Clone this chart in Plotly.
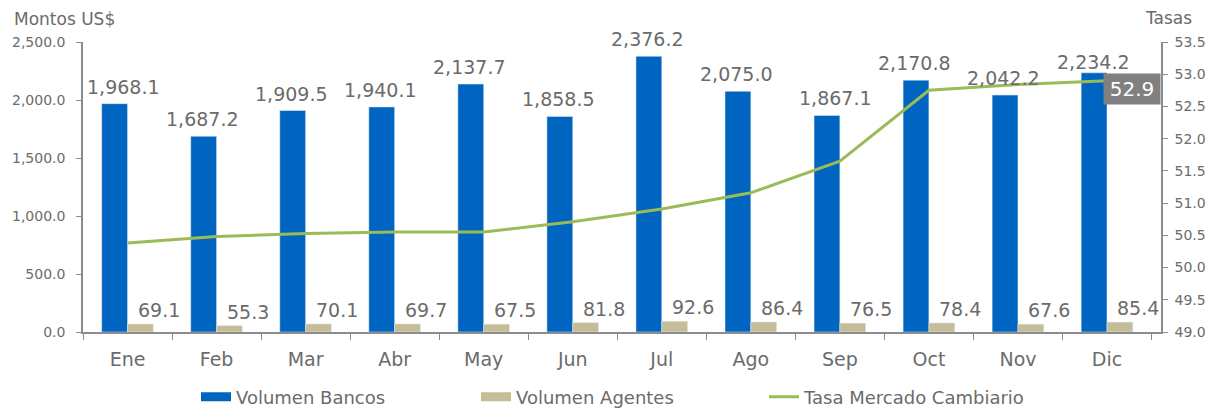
import plotly.graph_objects as go

months = ["Ene", "Feb", "Mar", "Abr", "May", "Jun", "Jul", "Ago", "Sep", "Oct", "Nov", "Dic"]
vol_bancos = [1968.1, 1687.2, 1909.5, 1940.1, 2137.7, 1858.5, 2376.2, 2075.0, 1867.1, 2170.8, 2042.2, 2234.2]
vol_agentes = [69.1, 55.3, 70.1, 69.7, 67.5, 81.8, 92.6, 86.4, 76.5, 78.4, 67.6, 85.4]
tasa = [50.38, 50.48, 50.53, 50.55, 50.55, 50.71, 50.91, 51.16, 51.65, 52.75, 52.84, 52.90]
left_ticks = [0, 500, 1000, 1500, 2000, 2500]
right_ticks = [49.0, 49.5, 50.0, 50.5, 51.0, 51.5, 52.0, 52.5, 53.0, 53.5]

BLUE = "#0064C1"
TAN = "#C4BD97"
GREEN = "#9BBB59"
GRAY_TXT = "#6B6B6B"
AXIS = "#8C8C8C"
FONT = "DejaVu Sans"

fig = go.Figure()
fig.add_trace(go.Bar(x=months, y=vol_bancos, name="Volumen Bancos", marker_color=BLUE,
                     showlegend=False, yaxis="y"))
fig.add_trace(go.Bar(x=months, y=vol_agentes, name="Volumen Agentes", marker_color=TAN,
                     showlegend=False, yaxis="y"))
fig.add_trace(go.Scatter(x=months, y=tasa, name="Tasa Mercado Cambiario", mode="lines",
                         line=dict(color=GREEN, width=3), showlegend=False, yaxis="y2"))

# legend entries (wide flat swatches like the original)
for nm, col, lg in [("Volumen Bancos", BLUE, "legend"),
                    ("Volumen Agentes", TAN, "legend2"),
                    ("Tasa Mercado Cambiario", GREEN, "legend3")]:
    fig.add_trace(go.Scatter(x=[None], y=[None], mode="lines", name=nm,
                             line=dict(color=col, width=9 if lg != "legend3" else 3),
                             legend=lg, showlegend=True, hoverinfo="skip"))

# data labels
blue_dx = {"Ene": -4, "Sep": -4}
blue_dy = {"Dic": 11}
ann = []
for m, v in zip(months, vol_bancos):
    ann.append(dict(x=m, y=v, xref="x", yref="y", text=f"{v:,.1f}", showarrow=False,
                    xshift=blue_dx.get(m, -14), yshift=blue_dy.get(m, 17), yanchor="middle",
                    font=dict(family=FONT, size=19, color=GRAY_TXT)))
for m, v in zip(months, vol_agentes):
    ann.append(dict(x=m, y=v, xref="x", yref="y", text=f"{v:,.1f}", showarrow=False,
                    xshift=31, yshift=14, yanchor="middle",
                    font=dict(family=FONT, size=19, color=GRAY_TXT)))
ann.append(dict(x=months[-1], y=tasa[-1], xref="x", yref="y2", text=f"{tasa[-1]:.1f}",
                showarrow=False, xshift=25, yshift=-8, bgcolor="#808080", borderpad=3,
                width=50, font=dict(family=FONT, size=20, color="white")))
ann.append(dict(x=-0.0659, y=1.0776, xref="paper", yref="paper", text="Montos US$",
                showarrow=False, xanchor="left", yanchor="middle",
                font=dict(family=FONT, size=17, color=GRAY_TXT)))
ann.append(dict(x=0.9833, y=1.0828, xref="paper", yref="paper", text="Tasas",
                showarrow=False, xanchor="left", yanchor="middle",
                font=dict(family=FONT, size=17, color=GRAY_TXT)))

leg_common = dict(orientation="h", yref="container", y=1 - 397 / 409, yanchor="middle",
                  xref="container", xanchor="left",
                  font=dict(family=FONT, size=18, color=GRAY_TXT), itemwidth=30,
                  bgcolor="rgba(0,0,0,0)", borderwidth=0)

fig.update_layout(
    width=1214, height=409,
    margin=dict(l=83, r=53, t=42, b=77, autoexpand=False),
    paper_bgcolor="white", plot_bgcolor="white",
    barmode="group", bargap=0.42, bargroupgap=0,
    font=dict(family=FONT, color=GRAY_TXT),
    xaxis=dict(type="category", showgrid=False, showline=True, linecolor=AXIS, linewidth=1.5,
               ticks="outside", tickson="boundaries", ticklen=6, tickcolor=AXIS, automargin=False,
               tickfont=dict(family=FONT, size=19, color=GRAY_TXT), ticklabelstandoff=9),
    yaxis=dict(range=[0, 2500], tickvals=left_ticks, tickformat=",.1f", showgrid=False,
               zeroline=False, showline=True, linecolor=AXIS, linewidth=1.5, ticks="outside",
               ticklen=5, tickcolor=AXIS, tickfont=dict(family=FONT, size=14, color=GRAY_TXT),
               ticklabelstandoff=8, automargin=False),
    yaxis2=dict(range=[49, 53.5], tickvals=right_ticks, tickformat=".1f", overlaying="y",
                side="right", showgrid=False, zeroline=False, showline=True, linecolor=AXIS,
                linewidth=1.5, ticks="outside", ticklen=5, tickcolor=AXIS, automargin=False,
                tickfont=dict(family=FONT, size=14, color=GRAY_TXT), ticklabelstandoff=4),
    legend=dict(x=196 / 1214, **leg_common),
    legend2=dict(x=476 / 1214, **leg_common),
    legend3=dict(x=764 / 1214, **leg_common),
    annotations=ann,
)

fig.write_html("out.html", config={"displayModeBar": False},
               post_script="document.body.style.margin='0';")
